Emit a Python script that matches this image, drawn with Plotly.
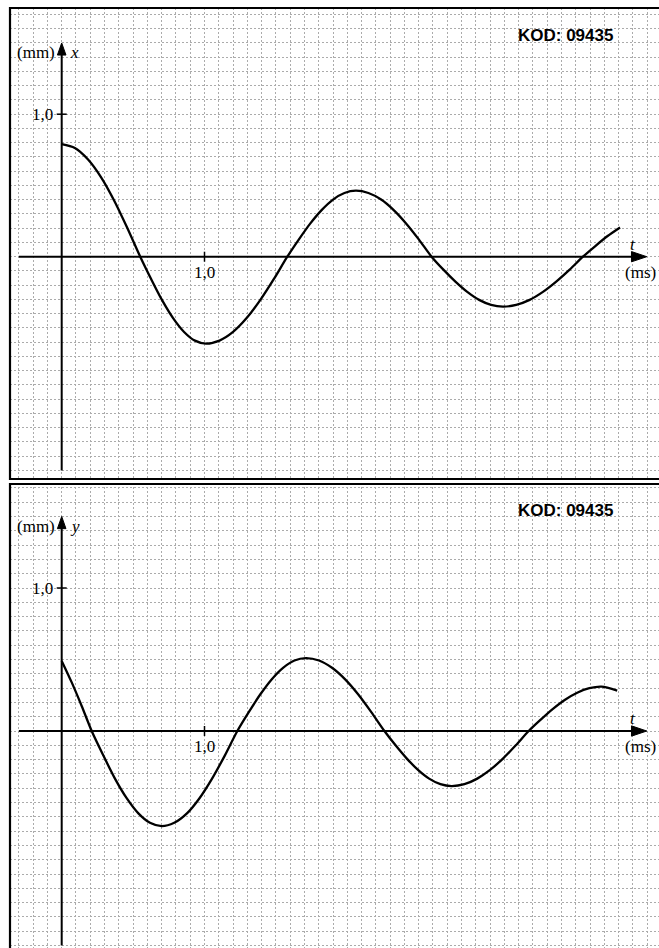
import plotly.graph_objects as go

# ---- data ----
# top panel: x(t) in mm vs t in ms
t_x = [0.0, 0.092, 0.183, 0.275, 0.367, 0.458, 0.55,
       0.627, 0.703, 0.78, 0.857, 0.933, 1.01,
       1.105, 1.2, 1.295, 1.39, 1.485, 1.58,
       1.66, 1.74, 1.82, 1.90, 1.98, 2.06,
       2.148, 2.237, 2.325, 2.413, 2.502, 2.59,
       2.673, 2.757, 2.84, 2.923, 3.007, 3.09,
       3.183, 3.277, 3.37, 3.463, 3.557, 3.65,
       3.737, 3.823, 3.91]
x_mm = [0.79, 0.763, 0.684, 0.559, 0.395, 0.205, 0.0,
        -0.158, -0.305, -0.431, -0.528, -0.589, -0.61,
        -0.589, -0.528, -0.431, -0.305, -0.158, 0.0,
        0.12, 0.232, 0.327, 0.401, 0.447, 0.463,
        0.447, 0.401, 0.327, 0.232, 0.12, 0.0,
        -0.091, -0.175, -0.247, -0.303, -0.338, -0.35,
        -0.338, -0.303, -0.247, -0.175, -0.091, 0.0,
        0.075, 0.145, 0.205]

# bottom panel: y(t) in mm vs t in ms
t_y = [0.0, 0.07, 0.14, 0.21,
       0.292, 0.373, 0.455, 0.537, 0.618, 0.70,
       0.788, 0.877, 0.965, 1.053, 1.142, 1.23,
       1.31, 1.39, 1.47, 1.55, 1.63, 1.71,
       1.802, 1.893, 1.985, 2.077, 2.168, 2.26,
       2.338, 2.417, 2.495, 2.573, 2.652, 2.73,
       2.82, 2.91, 3.0, 3.09, 3.18, 3.27,
       3.355, 3.44, 3.525, 3.61, 3.695, 3.78, 3.89]
y_mm = [0.49, 0.34, 0.175, 0.0,
        -0.172, -0.333, -0.47, -0.576, -0.642, -0.665,
        -0.642, -0.576, -0.47, -0.333, -0.172, 0.0,
        0.132, 0.255, 0.361, 0.442, 0.493, 0.51,
        0.493, 0.442, 0.361, 0.255, 0.132, 0.0,
        -0.1, -0.193, -0.272, -0.333, -0.372, -0.385,
        -0.372, -0.333, -0.272, -0.193, -0.1, 0.0,
        0.08, 0.155, 0.219, 0.268, 0.299, 0.31, 0.283]

code_text = "KOD: 09435"
tick_label = "1,0"
unit_v = "(mm)"
unit_t = "(ms)"
panel_vars = ["x", "y"]

W, H = 659, 948
fig = go.Figure()
curve_line = dict(color="black", width=2.3, shape="spline", smoothing=0.8)
fig.add_trace(go.Scatter(x=t_x, y=x_mm, mode="lines", xaxis="x", yaxis="y",
                         line=curve_line, showlegend=False, hoverinfo="skip"))
fig.add_trace(go.Scatter(x=t_y, y=y_mm, mode="lines", xaxis="x2", yaxis="y2",
                         line=curve_line, showlegend=False, hoverinfo="skip"))

grid = dict(showgrid=True, gridcolor="#ababab", gridwidth=1, griddash="2px,2px",
            dtick=0.1, tick0=0, showticklabels=False, zeroline=False, showline=False,
            ticks="", fixedrange=True)

xr = [(10 - 61.7) / 142.8, (659 - 61.7) / 142.8]
fig.update_layout(
    width=W, height=H, margin=dict(l=0, r=0, t=0, b=0, pad=0),
    paper_bgcolor="white", plot_bgcolor="white",
    xaxis=dict(domain=[10 / W, 1], range=xr, anchor="y", **grid),
    yaxis=dict(domain=[1 - 479 / H, 1 - 8 / H], range=[(256.7 - 479) / 142.5, (256.7 - 8) / 142.5],
               anchor="x", **grid),
    xaxis2=dict(domain=[10 / W, 1], range=xr, anchor="y2", **grid),
    yaxis2=dict(domain=[0, 1 - 483 / H], range=[(731 - 948) / 143, (731 - 483) / 143],
                anchor="x2", **grid),
)

shapes = []
annotations = []
serif = dict(family="Liberation Serif, Times New Roman, serif", size=17, color="black")
for xa, ya, var in [("x", "y", panel_vars[0]), ("x2", "y2", panel_vars[1])]:
    ln = dict(color="black", width=2)
    # axes
    shapes.append(dict(type="line", xref=xa, yref=ya, x0=0, x1=0, y0=-1.5, y1=1.45, line=ln))
    shapes.append(dict(type="line", xref=xa, yref=ya, x0=-0.3, x1=4.0, y0=0, y1=0, line=ln))
    # arrowheads
    shapes.append(dict(type="path", xref=xa, yref=ya,
                       path="M -0.03,1.415 L 0.03,1.415 L 0,1.5 Z",
                       fillcolor="black", line=dict(color="black", width=1)))
    shapes.append(dict(type="path", xref=xa, yref=ya,
                       path="M 3.99,0.036 L 3.99,-0.036 L 4.097,0 Z",
                       fillcolor="black", line=dict(color="black", width=1)))
    # ticks at 1,0
    shapes.append(dict(type="line", xref=xa, yref=ya, x0=1.0, x1=1.0, y0=-0.035, y1=0.035,
                       line=dict(color="black", width=1.5)))
    shapes.append(dict(type="line", xref=xa, yref=ya, x0=-0.035, x1=0.035, y0=1.0, y1=1.0,
                       line=dict(color="black", width=1.5)))
    # labels
    annotations += [
        dict(xref=xa, yref=ya, x=-0.03, y=1.43, text=unit_v, showarrow=False,
             xanchor="right", yanchor="middle", font=serif),
        dict(xref=xa, yref=ya, x=0.045, y=1.43, text="<i>%s</i>" % var, showarrow=False,
             xanchor="left", yanchor="middle", font=serif),
        dict(xref=xa, yref=ya, x=-0.045, y=1.0, text=tick_label, showarrow=False,
             xanchor="right", yanchor="middle", font=serif),
        dict(xref=xa, yref=ya, x=1.0, y=-0.11, text=tick_label, showarrow=False,
             xanchor="center", yanchor="middle", font=serif),
        dict(xref=xa, yref=ya, x=4.0, y=0.085, text="<i>t</i>", showarrow=False,
             xanchor="center", yanchor="middle", font=serif),
        dict(xref=xa, yref=ya, x=4.05, y=-0.11, text=unit_t, showarrow=False,
             xanchor="center", yanchor="middle", font=serif),
    ]

# KOD labels (paper coords)
kod_font = dict(family="Liberation Sans, Arial, sans-serif", size=17, color="black")
for yp in (36, 510):
    annotations.append(dict(xref="paper", yref="paper", x=565 / W, y=1 - yp / H,
                            text="<b>%s</b>" % code_text, showarrow=False,
                            xanchor="center", yanchor="middle", font=kod_font))

# panel borders
shapes.append(dict(type="rect", xref="paper", yref="paper", x0=10 / W, x1=1.05,
                   y0=1 - 479 / H, y1=1 - 8 / H, line=dict(color="black", width=2.2)))
shapes.append(dict(type="rect", xref="paper", yref="paper", x0=10 / W, x1=1.05,
                   y0=-0.05, y1=1 - 484 / H, line=dict(color="black", width=2.2)))

fig.update_layout(shapes=shapes, annotations=annotations)
fig.write_html("out.html", config={"displayModeBar": False},
               post_script="document.body.style.margin='0';document.body.style.padding='0';")
